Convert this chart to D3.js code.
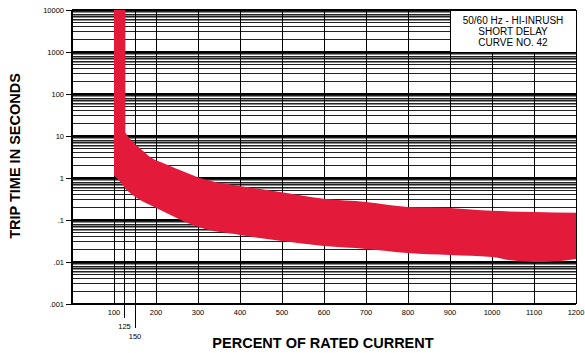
<!DOCTYPE html>
<html>
<head>
<meta charset="utf-8">
<script src="https://cdn.jsdelivr.net/npm/d3@7"></script>
<style>
  body { margin: 0; background: #fff; }
  svg { display: block; font-family: "Liberation Sans", Arial, sans-serif; }
</style>
</head>
<body>
<svg id="chart"></svg>
<script>
// trip curve band, percent of rated current vs seconds
const yTicks = [0.001, 0.01, 0.1, 1, 10, 100, 1000, 10000];
const yTickLabels = [".001", ".01", ".1", "1", "10", "100", "1000", "10000"];
const xTicks = [100, 200, 300, 400, 500, 600, 700, 800, 900, 1000, 1100, 1200];
const xExtraTicks = [125, 150];
// grid lines inside each decade (multiples of the decade value)
const gridSteps = [2, 3, 4, 5, 5.5, 6, 6.5, 7, 7.5, 8, 8.5, 9, 9.5];

// vertical strip of the band (pickup zone)
const stripPct = [100, 127];
const stripTop = 10000;

// upper edge of the band (after the strip)
const upperPct = [127, 145, 162, 186, 225, 264, 305, 383, 464, 543, 600, 700, 800, 900, 1000, 1100, 1200];
const upperSec = [12, 7.2, 5.1, 3.16, 2.1, 1.45, 1.0, 0.68, 0.52, 0.39, 0.32, 0.27, 0.205, 0.193, 0.165, 0.155, 0.148];

// lower edge of the band
const lowerPct = [100, 114, 130, 145, 186, 225, 264, 305, 400, 495, 600, 700, 800, 900, 1000, 1050, 1100, 1150, 1200];
const lowerSec = [1.15, 0.82, 0.52, 0.39, 0.227, 0.147, 0.095, 0.066, 0.044, 0.032, 0.024, 0.0205, 0.0164, 0.0147, 0.0132, 0.0108, 0.0100, 0.0103, 0.0118];

const titleLines = ["50/60 Hz - HI-INRUSH", "SHORT DELAY", "CURVE NO. 42"];

const W = 585, H = 353;
const svg = d3.select("#chart").attr("width", W).attr("height", H);

const x = d3.scaleLinear().domain([0, 1200]).range([72, 576]);
const y = d3.scaleLog().domain([0.001, 10000]).range([304, 10]);

// horizontal grid
const grid = svg.append("g").attr("shape-rendering", "crispEdges");
const hLines = [];
for (let e = -3; e < 4; e++) {
  gridSteps.forEach(k => {
    hLines.push({ v: k * Math.pow(10, e), major: Number.isInteger(k) });
  });
}
grid.selectAll("line.h").data(hLines).enter().append("line")
  .attr("class", "h")
  .attr("x1", x(0)).attr("x2", x(1200))
  .attr("y1", d => y(d.v)).attr("y2", d => y(d.v))
  .attr("stroke", d => d.major ? "#222" : "#8a8a8a")
  .attr("stroke-width", 1);
grid.selectAll("line.dec").data(yTicks).enter().append("line")
  .attr("class", "dec")
  .attr("x1", x(0)).attr("x2", x(1200))
  .attr("y1", d => y(d)).attr("y2", d => y(d))
  .attr("stroke", "#000").attr("stroke-width", 1.2);

// vertical grid
grid.selectAll("line.v").data(xTicks.concat(xExtraTicks)).enter().append("line")
  .attr("class", "v")
  .attr("x1", d => x(d)).attr("x2", d => x(d))
  .attr("y1", y(10000)).attr("y2", y(0.001))
  .attr("stroke", "#000").attr("stroke-width", 1);
grid.append("line")
  .attr("x1", x(0)).attr("x2", x(0))
  .attr("y1", y(10000)).attr("y2", y(0.001))
  .attr("stroke", "#000").attr("stroke-width", 1.2);

// band
const line = d3.line().x(d => x(d[0])).y(d => y(d[1])).curve(d3.curveMonotoneX);
const upperPts = upperPct.map((p, i) => [p, upperSec[i]]);
const lowerPts = lowerPct.map((p, i) => [p, lowerSec[i]]).reverse();
const bandD = "M" + x(stripPct[0]) + "," + y(stripTop) +
  "L" + x(stripPct[1]) + "," + y(stripTop) +
  line(upperPts).replace(/^M/, "L") +
  line(lowerPts).replace(/^M/, "L") + "Z";
svg.append("path").attr("d", bandD).attr("fill", "#e31a3a");

// y axis ticks + labels
const yAx = svg.append("g");
yAx.selectAll("line").data(yTicks).enter().append("line")
  .attr("x1", 66).attr("x2", x(0))
  .attr("y1", d => y(d)).attr("y2", d => y(d))
  .attr("stroke", "#000").attr("shape-rendering", "crispEdges");
yAx.selectAll("text").data(yTicks).enter().append("text")
  .attr("x", 64).attr("y", d => y(d) + 2.7)
  .attr("text-anchor", "end").attr("font-size", 7.5)
  .text((d, i) => yTickLabels[i]);

// x axis labels
const xAx = svg.append("g");
xAx.selectAll("text.main").data(xTicks).enter().append("text")
  .attr("class", "main")
  .attr("x", d => x(d)).attr("y", 315)
  .attr("text-anchor", "middle").attr("font-size", 7.5)
  .text(d => d);
const extraY = { 125: [318, 329], 150: [328, 339] };
xAx.selectAll("line.ext").data(xExtraTicks).enter().append("line")
  .attr("class", "ext")
  .attr("x1", d => x(d)).attr("x2", d => x(d))
  .attr("y1", y(0.001)).attr("y2", d => extraY[d][0])
  .attr("stroke", "#000").attr("shape-rendering", "crispEdges");
xAx.selectAll("text.ext").data(xExtraTicks).enter().append("text")
  .attr("class", "ext")
  .attr("x", d => x(d)).attr("y", d => extraY[d][1])
  .attr("text-anchor", "middle").attr("font-size", 7.5)
  .text(d => d);

// title box
svg.append("rect")
  .attr("x", 450).attr("y", y(10000))
  .attr("width", x(1200) - 450).attr("height", y(1000) - y(10000))
  .attr("fill", "#fff").attr("stroke", "#000")
  .attr("shape-rendering", "crispEdges");
svg.selectAll("text.box").data(titleLines).enter().append("text")
  .attr("class", "box")
  .attr("x", 513).attr("y", (d, i) => 24 + i * 11)
  .attr("text-anchor", "middle").attr("font-size", 10)
  .text(d => d);

// axis titles
svg.append("text")
  .attr("x", 323).attr("y", 348)
  .attr("text-anchor", "middle").attr("font-size", 14.5).attr("font-weight", "bold")
  .text("PERCENT OF RATED CURRENT");
svg.append("text")
  .attr("transform", "translate(20,156) rotate(-90)")
  .attr("text-anchor", "middle").attr("font-size", 14.5).attr("font-weight", "bold")
  .text("TRIP TIME IN SECONDS");
</script>
</body>
</html>
